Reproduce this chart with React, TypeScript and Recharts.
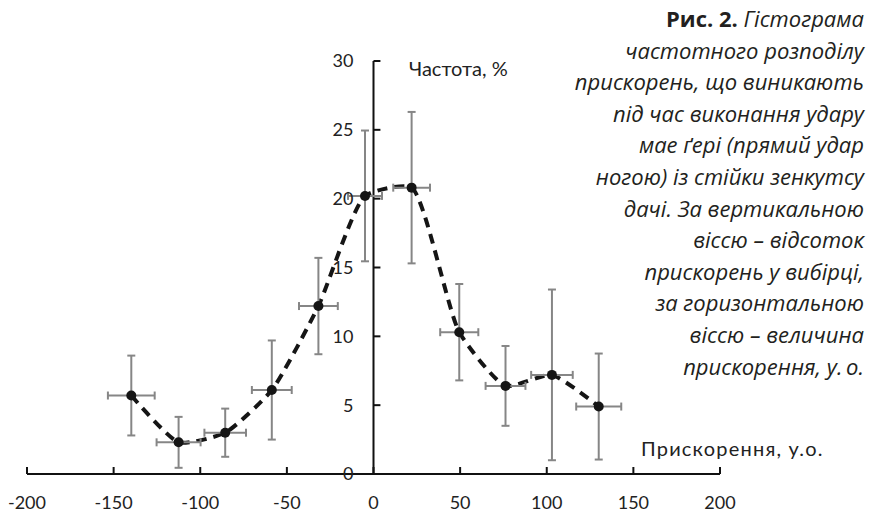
import React from 'react'
import { ComposedChart, Line, Scatter, ErrorBar, XAxis, YAxis, ReferenceLine } from 'recharts'

// acceleration (x) and frequency (y)
const accel = [-139.8, -112.5, -85.6, -58.7, -31.8, -4.9, 22.0, 49.5, 76.2, 103.0, 130.0]
const freq = [5.7, 2.3, 3.0, 6.1, 12.2, 20.2, 20.8, 10.3, 6.4, 7.2, 4.9]
const accelErr = [13.5, 12.7, 12, 11.5, 11.2, 9.8, 10.6, 11, 11.5, 12, 13]
const freqErr = [2.9, 1.85, 1.75, 3.6, 3.5, 4.75, 5.5, 3.5, 2.9, 6.2, 3.85]

const xTicks = [-200, -150, -100, -50, 0, 50, 100, 150, 200]
const yTicks = [0, 5, 10, 15, 20, 25, 30]

const captionLines = [
  'частотного розподілу',
  'прискорень, що виникають',
  'під час виконання удару',
  'мае ґері (прямий удар',
  'ногою) із стійки зенкутсу',
  'дачі. За вертикальною',
  'віссю – відсоток',
  'прискорень у вибірці,',
  'за горизонтальною',
  'віссю – величина',
  'прискорення, у.\u2009о.',
]

const data = accel.map((x, i) => ({ x, y: freq[i], ex: accelErr[i], ey: freqErr[i] }))

const axisFont = { fill: '#222', fontSize: 18, fontFamily: 'Lato' }

// lightly smoothed line like excel's: centripetal catmull-rom, handles pulled in
const SMOOTH = 0.55
const smoothCurve = (context: any) => {
  let pts: number[][] = []
  const dist = (a: number[], b: number[]) => Math.sqrt(Math.hypot(b[0] - a[0], b[1] - a[1]))
  return {
    areaStart() {},
    areaEnd() {},
    lineStart() {
      pts = []
    },
    point(x: number, y: number) {
      pts.push([x, y])
    },
    lineEnd() {
      const n = pts.length
      if (!n) return
      context.moveTo(pts[0][0], pts[0][1])
      for (let i = 0; i < n - 1; i++) {
        const p0 = pts[Math.max(i - 1, 0)]
        const p1 = pts[i]
        const p2 = pts[i + 1]
        const p3 = pts[Math.min(i + 2, n - 1)]
        const l01 = dist(p0, p1)
        const l12 = dist(p1, p2)
        const l23 = dist(p2, p3)
        let c1 = p1
        let c2 = p2
        if (l01 > 1e-6) {
          const a = 2 * l01 * l01 + 3 * l01 * l12 + l12 * l12
          const m = 3 * l01 * (l01 + l12)
          c1 = [0, 1].map((k) => (p1[k] * a - p0[k] * l12 * l12 + p2[k] * l01 * l01) / m)
        }
        if (l23 > 1e-6) {
          const b = 2 * l23 * l23 + 3 * l23 * l12 + l12 * l12
          const m = 3 * l23 * (l23 + l12)
          c2 = [0, 1].map((k) => (p2[k] * b + p1[k] * l23 * l23 - p3[k] * l12 * l12) / m)
        }
        c1 = [0, 1].map((k) => p1[k] + SMOOTH * (c1[k] - p1[k]))
        c2 = [0, 1].map((k) => p2[k] + SMOOTH * (c2[k] - p2[k]))
        context.bezierCurveTo(c1[0], c1[1], c2[0], c2[1], p2[0], p2[1])
      }
    },
  }
}

const App: React.FC = () => {
  return (
    <div style={{ position: 'absolute', left: 0, top: 0, width: 871, height: 512, background: '#fff' }}>
      <ComposedChart width={871} height={512} data={data} margin={{ top: 61, right: 151, bottom: 0, left: 27 }}>
        <XAxis
          type="number"
          dataKey="x"
          domain={[-200, 200]}
          ticks={xTicks}
          interval={0}
          height={38}
          tickSize={-7}
          tickMargin={29}
          axisLine={{ stroke: '#111', strokeWidth: 2 }}
          tickLine={{ stroke: '#111', strokeWidth: 2 }}
          tick={axisFont}
          allowDataOverflow
        />
        <YAxis type="number" domain={[0, 30]} ticks={yTicks} hide width={0} allowDataOverflow />
        <ReferenceLine x={0} stroke="#111" strokeWidth={2} />
        {yTicks.map((t) => (
          <ReferenceLine
            key={t}
            segment={[{ x: 0, y: t }, { x: 4, y: t }]}
            stroke="#111"
            strokeWidth={2}
            ifOverflow="visible"
            label={{ value: String(t), position: 'left', offset: 20, ...axisFont }}
          />
        ))}
        <Line
          type={smoothCurve as any}
          dataKey="y"
          stroke="#151515"
          strokeWidth={4}
          strokeDasharray="10 7"
          dot={false}
          activeDot={false}
          isAnimationActive={false}
        />
        <Scatter
          dataKey="y"
          isAnimationActive={false}
          shape={(p: any) => <circle cx={p.cx} cy={p.cy} r={5} fill="#151515" />}
        >
          <ErrorBar dataKey="ex" direction="x" width={4} stroke="#868686" strokeWidth={2} />
          <ErrorBar dataKey="ey" direction="y" width={4} stroke="#868686" strokeWidth={2} />
        </Scatter>
      </ComposedChart>

      <div style={{ position: 'absolute', left: 409, top: 56, fontFamily: 'Lato', fontSize: 20, color: '#222', whiteSpace: 'nowrap' }}>
        Частота, %
      </div>
      <div
        style={{
          position: 'absolute',
          left: 641,
          top: 436,
          fontFamily: 'Lato',
          fontSize: 20,
          letterSpacing: 1.2,
          color: '#222',
          whiteSpace: 'nowrap',
        }}
      >
        Прискорення, у.о.
      </div>

      <div
        style={{
          position: 'absolute',
          right: 7,
          top: 3,
          textAlign: 'right',
          fontFamily: '"Open Sans"',
          fontSize: 22,
          lineHeight: '31.6px',
          color: '#231f20',
          whiteSpace: 'nowrap',
        }}
      >
        <div>
          <b style={{ fontWeight: 700 }}>Рис. 2.</b> <i>Гістограма</i>
        </div>
        {captionLines.map((l) => (
          <div key={l}>
            <i>{l}</i>
          </div>
        ))}
      </div>
    </div>
  )
}

export default App
